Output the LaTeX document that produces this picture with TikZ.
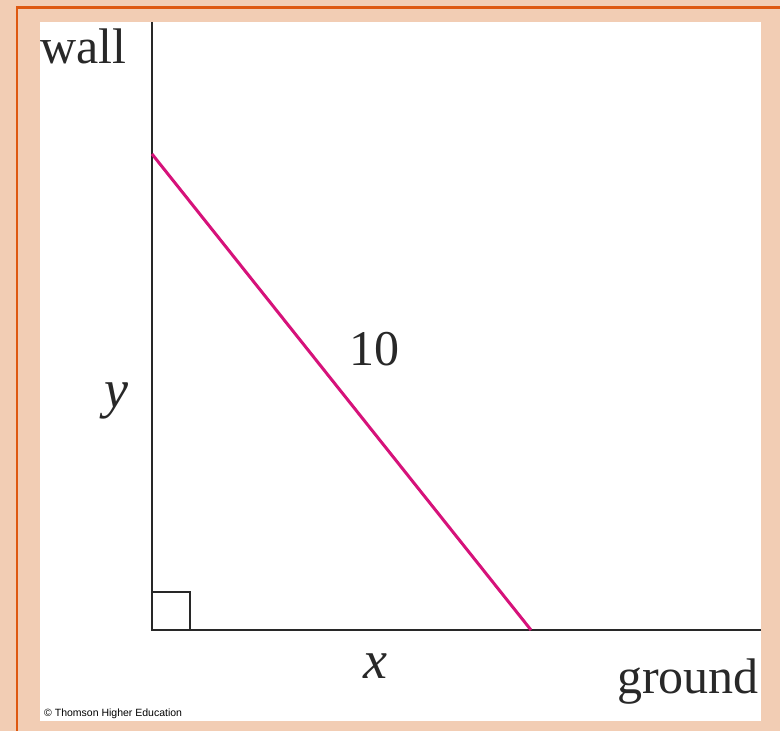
\documentclass[tikz,border=0pt]{standalone}
\usepackage{fontspec}
\setmainfont{Liberation Serif}
\newfontfamily\credfont{Liberation Sans}
\definecolor{peach}{RGB}{242,205,180}
\definecolor{frameorange}{RGB}{222,88,16}
\definecolor{laddercol}{RGB}{214,18,122}
\definecolor{inkgray}{RGB}{40,40,40}
\tikzset{
  axisline/.style={draw=inkgray, line width=2pt},
  ladderline/.style={draw=laddercol, line width=3pt},
  biglabel/.style={inner sep=0pt, font=\fontsize{50}{58}\selectfont, text=inkgray},
  varlabel/.style={inner sep=0pt, font=\fontsize{54}{62}\selectfont\itshape, text=inkgray},
  credit/.style={inner sep=0pt, font=\credfont\fontsize{10.5}{12}\selectfont, text=black},
}
\begin{document}
\begin{tikzpicture}[x=1pt,y=-1pt]
\useasboundingbox (0,0) rectangle (780,731);
\fill[peach] (0,0) rectangle (780,731);
\draw[frameorange, line width=2.6pt] (17,731) -- (17,7.5) -- (780,7.5);
\fill[white] (40,22) rectangle (761,721);
% geometry
\coordinate (O) at (152,630);
\coordinate (W) at (152,22);
\coordinate (G) at (761,630);
\coordinate (T) at (152,154);
\coordinate (F) at (531,630);
\draw[axisline] (W) -- (O) -- (G);
\draw[draw=inkgray, line width=1.6pt] (152,592) -| (190,630);
\draw[ladderline] (T) -- (F);
% labels
\node[biglabel, anchor=base west] (wall) at (40,63) {wall};
\node[biglabel, anchor=base east] (ground) at (759,693) {ground};
\node[biglabel, anchor=base] (len) at (374,365) {10};
\node[varlabel, anchor=base] (ylab) at (116,407) {y};
\node[varlabel, anchor=base] (xlab) at (375,678) {x};
\node[credit, anchor=base west] (cred) at (44,716) {\textcopyright{} Thomson Higher Education};
\end{tikzpicture}
\end{document}
